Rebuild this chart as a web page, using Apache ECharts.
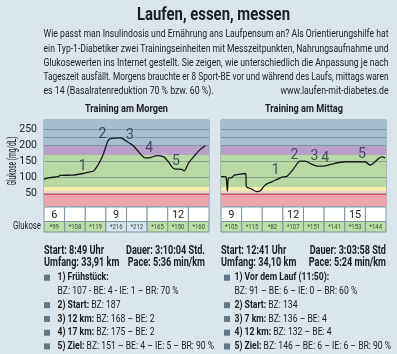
<!DOCTYPE html>
<html>
<head>
<meta charset="utf-8">
<script src="https://cdn.jsdelivr.net/npm/echarts@6/dist/echarts.min.js"></script>
<style>
  html, body { margin: 0; padding: 0; background: #dae5ec; }
  #chart { width: 397px; height: 354px; }
</style>
</head>
<body>
<div id="chart"></div>
<script>
// ---- data ----
const morningHours = ['6', '', '', '9', '', '', '12', ''];
const morningGlucose = [99, 108, 119, 216, 212, 165, 150, 160];
const middayHours = ['9', '', '', '12', '', '', '15', ''];
const middayGlucose = [105, 115, 82, 107, 151, 141, 153, 144];

// [hour, mg/dL]
const morningCurve = [
  [6.0, 94], [6.29, 99], [6.7, 102], [6.78, 106], [7.42, 107], [7.9, 112], [8.15, 116],
  [8.4, 120], [8.56, 133], [8.8, 161], [9.0, 196], [9.12, 217], [9.28, 222], [9.69, 224],
  [9.85, 220], [10.17, 206], [10.33, 199], [10.66, 175], [10.9, 161], [11.15, 162],
  [11.47, 168], [11.8, 164], [12.03, 149], [12.2, 133], [12.36, 126], [12.68, 125],
  [12.8, 120], [13.0, 144], [13.33, 170], [13.57, 187], [13.82, 199]
];
const middayCurve = [
  [9.0, 102], [9.19, 102], [9.25, 100], [9.31, 57], [9.36, 97], [9.52, 99], [9.65, 107],
  [9.92, 110], [10.2, 112], [10.23, 71], [10.49, 63], [10.73, 55], [10.89, 57], [11.14, 76],
  [11.46, 86], [11.78, 95], [11.95, 101], [12.19, 103], [12.51, 126], [12.83, 151],
  [13.08, 151], [13.4, 141], [13.72, 135], [14.05, 136], [14.53, 144], [15.02, 149],
  [15.5, 149], [15.99, 149], [16.23, 138], [16.39, 144], [16.64, 159], [16.8, 164], [16.96, 161]
];
// [label, hour, mg/dL]
const morningMarks = [['1', 7.88, 133], ['2', 8.83, 234], ['3', 10.17, 232], ['4', 11.1, 190], ['5', 12.4, 149]];
const middayMarks = [['1', 11.65, 120], ['2', 12.56, 170], ['3', 13.53, 164], ['4', 14.05, 159], ['5', 15.83, 172]];

const yTicks = [50, 100, 150, 200, 250];
const gridLevels = [50, 100, 150, 200, 225, 250];
// [from, to, zone]
const bands = [[10, 46, 'low'], [46, 58, 'pale'], [58, 70, 'yellow'], [70, 170, 'green'], [170, 200, 'purple'], [200, 280, 'blue']];
const redLine = 46;

const titleText = 'Laufen, essen, messen';
const introLines = [
  'Wie passt man Insulindosis und Ernährung ans Laufpensum an? Als Orientierungshilfe hat',
  'ein Typ-1-Diabetiker zwei Trainingseinheiten mit Messzeitpunkten, Nahrungsaufnahme und',
  'Glukosewerten ins Internet gestellt. Sie zeigen, wie unterschiedlich die Anpassung je nach',
  'Tageszeit ausfällt. Morgens brauchte er 8 Sport-BE vor und während des Laufs, mittags waren',
  'es 14 (Basalratenreduktion 70 % bzw. 60 %).'
];
const introUrl = 'www.laufen-mit-diabetes.de';

const morningInfo = [['Start: 8:49 Uhr', 'Dauer: 3:10:04 Std.'], ['Umfang: 33,91 km', 'Pace: 5:36 min/km']];
const middayInfo = [['Start: 12:41 Uhr', 'Dauer: 3:03:58 Std'], ['Umfang: 34,10 km', 'Pace: 5:24 min/km']];

const morningNotes = [
  ['1) Frühstück:', ''],
  [null, 'BZ: 107 - BE: 4 - IE: 1 – BR: 70 %'],
  ['2) Start:', ' BZ: 187'],
  ['3) 12 km:', ' BZ: 168 – BE: 2'],
  ['4) 17 km:', ' BZ: 175 – BE: 2'],
  ['5) Ziel:', ' BZ: 151 – BE: 4 – IE: 5 – BR: 90 %']
];
const middayNotes = [
  ['1) Vor dem Lauf (11:50):', ''],
  [null, 'BZ: 91 – BE: 6 – IE: 0 – BR: 60 %'],
  ['2) Start:', ' BZ: 134'],
  ['3) 7 km:', ' BZ: 136 – BE: 4'],
  ['4) 12 km:', ' BZ: 132 – BE: 4'],
  ['5) Ziel:', ' BZ: 146 – BE: 6 – IE: 6 – BR: 90 %']
];

// ---- styling ----
const FONT = "'Roboto','Liberation Sans',sans-serif";
const TXT = '#1b1d22';
const zoneColor = {
  low: '#eba4ac', pale: '#f2d3c8', yellow: '#f6efa6', green: '#b8d9a3', purple: '#b9a0cb', blue: '#a4c0cf'
};
function cellColor(v) {
  if (v >= 200) return '#d4e4ee';
  if (v >= 170) return '#d3c4e0';
  return '#bcdfa7';
}

const measureCtx = document.createElement('canvas').getContext('2d');
function textWidth(text, font) {
  measureCtx.font = font;
  return measureCtx.measureText(text).width;
}

const chart = echarts.init(document.getElementById('chart'), null, { renderer: 'canvas' });

function plotSeries(curve, marks, xi) {
  return [{
    type: 'line',
    xAxisIndex: xi, yAxisIndex: xi,
    data: curve,
    showSymbol: false,
    smooth: 0.25,
    lineStyle: { color: '#15171c', width: 1.3 },
    z: 5,
    markArea: {
      silent: true,
      data: bands.map(b => [{ yAxis: b[0], itemStyle: { color: zoneColor[b[2]] } }, { yAxis: b[1] }])
    },
    markLine: {
      silent: true, symbol: 'none', label: { show: false },
      data: gridLevels.map(v => ({ yAxis: v, lineStyle: { color: 'rgba(70,95,110,0.45)', width: 1, type: 'solid' } }))
        .concat([{ yAxis: redLine, lineStyle: { color: '#d6556a', width: 1.2, type: 'solid' } }])
    }
  }, {
    type: 'scatter',
    xAxisIndex: xi, yAxisIndex: xi,
    symbolSize: 0,
    z: 6,
    data: marks.map(m => ({ name: m[0], value: [m[1], m[2]] })),
    label: { show: true, position: 'inside', formatter: '{b}', fontSize: 14, color: '#2b2d50', fontFamily: FONT }
  }];
}

function cellSeries(labels, values, gi, isHour) {
  return {
    type: 'custom',
    xAxisIndex: gi, yAxisIndex: gi,
    data: labels.map((_, i) => [i, 1]),
    renderItem: function (params, api) {
      const i = params.dataIndex;
      const top = api.coord([i, 1]);
      const bottom = api.coord([i, 0]);
      const w = api.size([1, 0])[0];
      return {
        type: 'group',
        children: [{
          type: 'rect',
          shape: { x: top[0] - w / 2, y: top[1], width: w, height: bottom[1] - top[1] },
          style: { fill: isHour ? '#ffffff' : cellColor(values[i]), stroke: '#7d93a0', lineWidth: 1 }
        }, {
          type: 'text',
          x: top[0], y: (top[1] + bottom[1]) / 2 + 0.5,
          scaleX: isHour ? 0.95 : 0.85,
          style: {
            text: isHour ? labels[i] : '*' + values[i],
            fill: isHour ? TXT : '#2f4d32',
            font: (isHour ? '11.5px ' : '7px ') + FONT,
            align: 'center', verticalAlign: 'middle'
          }
        }]
      };
    }
  };
}

const plotGrid = { top: 120, width: 165, height: 86, show: true, borderColor: '#7d93a0', borderWidth: 1, backgroundColor: 'transparent', outerBoundsMode: 'none' };
const grids = [
  Object.assign({}, plotGrid, { left: 44 }),
  Object.assign({}, plotGrid, { left: 221 }),
  { left: 44, top: 207, width: 165, height: 14.5, outerBoundsMode: 'none' },
  { left: 221, top: 207, width: 165, height: 14.5, outerBoundsMode: 'none' },
  { left: 44, top: 221.5, width: 165, height: 10.5, outerBoundsMode: 'none' },
  { left: 221, top: 221.5, width: 165, height: 10.5, outerBoundsMode: 'none' }
];

const hidden = { axisLine: { show: false }, axisTick: { show: false }, axisLabel: { show: false }, splitLine: { show: false } };
const cats = morningHours.map((_, i) => String(i));
const xAxes = [
  Object.assign({ type: 'value', gridIndex: 0, min: 6, max: 14 }, hidden),
  Object.assign({ type: 'value', gridIndex: 1, min: 9, max: 17 }, hidden),
  Object.assign({ type: 'category', gridIndex: 2, data: cats }, hidden),
  Object.assign({ type: 'category', gridIndex: 3, data: cats }, hidden),
  Object.assign({ type: 'category', gridIndex: 4, data: cats }, hidden),
  Object.assign({ type: 'category', gridIndex: 5, data: cats }, hidden)
];
const yAxes = [
  {
    type: 'value', gridIndex: 0, min: 10, max: 280, interval: 10,
    axisLine: { show: false }, axisTick: { show: false }, splitLine: { show: false },
    axisLabel: {
      margin: 7, fontSize: 10.5, color: TXT, fontFamily: FONT,
      formatter: v => (yTicks.indexOf(v) >= 0 ? String(v) : '')
    }
  },
  Object.assign({ type: 'value', gridIndex: 1, min: 10, max: 280 }, hidden),
  Object.assign({ type: 'value', gridIndex: 2, min: 0, max: 1 }, hidden),
  Object.assign({ type: 'value', gridIndex: 3, min: 0, max: 1 }, hidden),
  Object.assign({ type: 'value', gridIndex: 4, min: 0, max: 1 }, hidden),
  Object.assign({ type: 'value', gridIndex: 5, min: 0, max: 1 }, hidden)
];

// ---- text blocks ----
const graphics = [];
// place a text squeezed horizontally to a given width (the original uses a condensed face)
function fitText(x, y, text, font, width, align, extra) {
  graphics.push(Object.assign({
    type: 'text', x: x, y: y, silent: true,
    scaleX: width / textWidth(text, font),
    style: { text: text, font: font, fill: TXT, textAlign: align || 'left', textVerticalAlign: 'middle' }
  }, extra || {}));
}

fitText(213.5, 15.5, titleText, 'bold 18px ' + FONT, 153, 'center');
const introFont = '11px ' + FONT;
const introY = [34.3, 48.8, 63.2, 77.6, 91];
introLines.forEach((line, i) => {
  fitText(43.5, introY[i], line, introFont, i < 4 ? 345 : 170, 'left');
});
fitText(388.5, introY[4], introUrl, introFont, 108, 'right');

fitText(126.5, 109, 'Training am Morgen', 'bold 11.5px ' + FONT, 83, 'center');
fitText(304, 109, 'Training am Mittag', 'bold 11.5px ' + FONT, 78, 'center');
fitText(41, 226.5, 'Glukose', '11.5px ' + FONT, 28, 'right');
fitText(13, 161, 'Glukose (mg/dL)', '12px ' + FONT, 49, 'center', { rotation: Math.PI / 2 });

const infoFont = 'bold 12px ' + FONT;
const infoScale = 60 / textWidth(morningInfo[0][0], infoFont);
[[morningInfo, 44, 205], [middayInfo, 221, 386]].forEach(([info, l, r]) => {
  info.forEach((row, k) => {
    const y = 250.5 + k * 12.5;
    fitText(l, y, row[0], infoFont, textWidth(row[0], infoFont) * infoScale, 'left');
    fitText(r, y, row[1], infoFont, textWidth(row[1], infoFont) * infoScale, 'right');
  });
});

const noteFont = '11px ' + FONT;
const noteScale = 121 / textWidth(morningNotes[1][1], noteFont);
const noteY0 = 277.7, noteStep = 13.75;
[[morningNotes, 44, 57.5], [middayNotes, 224, 234.5]].forEach(([notes, bx, tx]) => {
  notes.forEach((n, k) => {
    const y = noteY0 + k * noteStep;
    if (n[0] !== null) {
      graphics.push({ type: 'rect', silent: true, shape: { x: bx, y: y - 3, width: 6, height: 6 }, style: { fill: '#5f7889' } });
    }
    graphics.push({
      type: 'text', x: tx, y: y, silent: true, scaleX: noteScale,
      style: {
        text: (n[0] !== null ? '{b|' + n[0] + '}' : '') + n[1],
        font: noteFont, fill: TXT, textVerticalAlign: 'middle',
        rich: { b: { fontWeight: 'bold', fontSize: 11, fontFamily: FONT, fill: TXT } }
      }
    });
  });
});

chart.setOption({
  backgroundColor: '#dae5ec',
  animation: false,
  textStyle: { fontFamily: FONT },
  grid: grids,
  xAxis: xAxes,
  yAxis: yAxes,
  series: [].concat(
    plotSeries(morningCurve, morningMarks, 0),
    plotSeries(middayCurve, middayMarks, 1),
    [cellSeries(morningHours, morningGlucose, 2, true),
     cellSeries(middayHours, middayGlucose, 3, true),
     cellSeries(morningHours, morningGlucose, 4, false),
     cellSeries(middayHours, middayGlucose, 5, false)]
  ),
  graphic: graphics
});
</script>
</body>
</html>
